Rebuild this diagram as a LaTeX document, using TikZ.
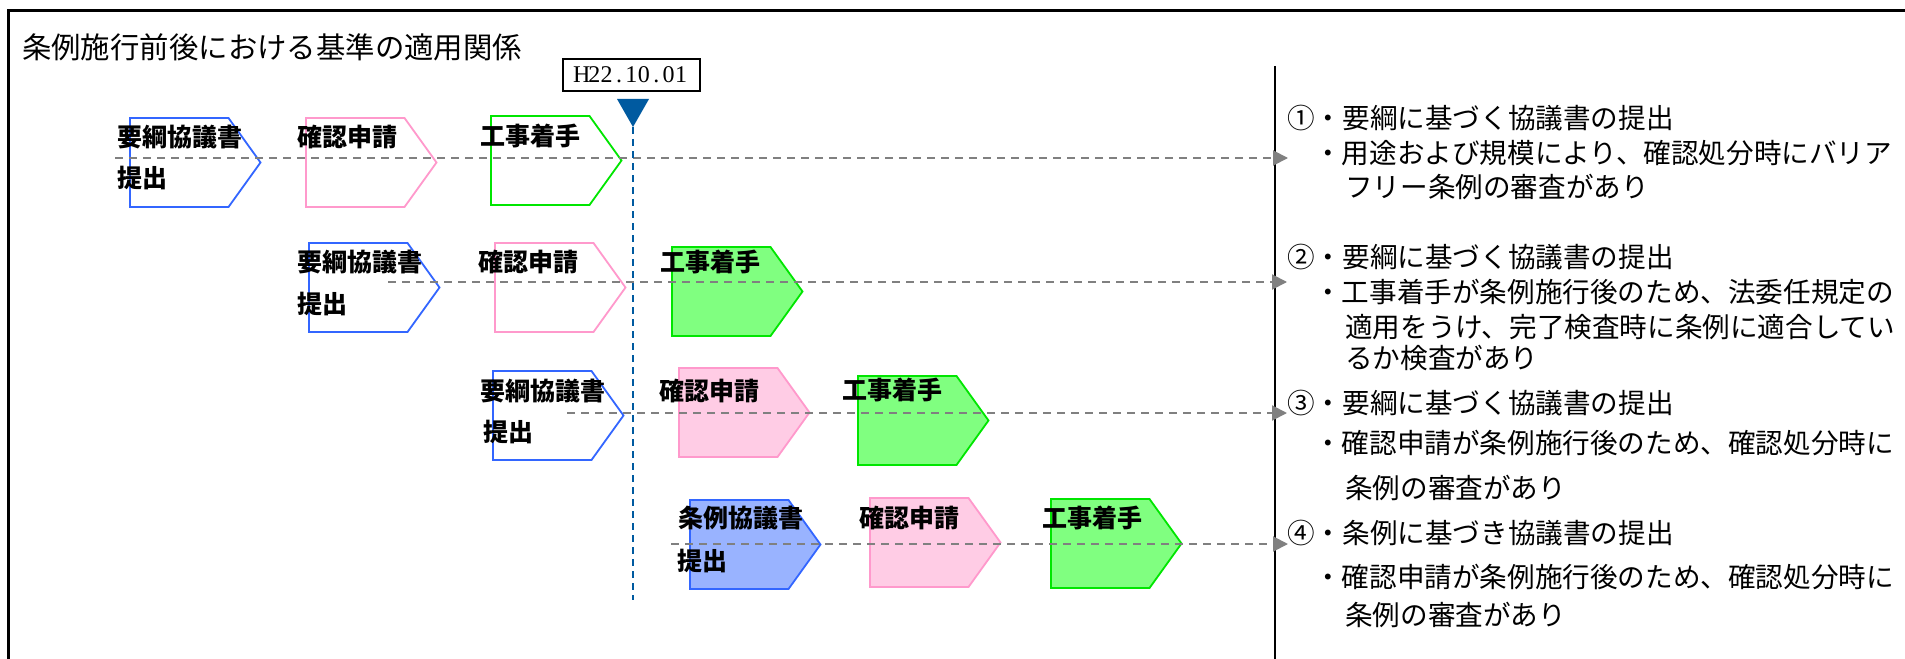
\documentclass[tikz,border=0pt]{standalone}
\usepackage{fontspec}
\setmainfont{Liberation Serif}
\newfontfamily\jp{Noto Sans CJK JP}
\usetikzlibrary{arrows.meta}
\definecolor{bline}{RGB}{51,102,255}
\definecolor{bfill}{RGB}{153,179,255}
\definecolor{pline}{RGB}{255,153,204}
\definecolor{pfill}{RGB}{255,204,229}
\definecolor{gline}{RGB}{0,230,0}
\definecolor{gfill}{RGB}{128,255,128}
\definecolor{mblue}{RGB}{0,90,160}
\definecolor{dgray}{RGB}{128,128,128}
\tikzset{
  box/.style={minimum width=98.5bp, minimum height=89bp, inner sep=0, outer sep=0, anchor=north west, draw=none},
  lbl/.style={anchor=west, inner sep=0, font=\jp\bfseries\fontsize{25bp}{27bp}\selectfont},
  desc/.style={anchor=west, inner sep=0, font=\jp\fontsize{27.6bp}{30bp}\selectfont},
  conn/.style={draw=dgray, line width=2bp, dash pattern=on 8bp off 6bp, -{Triangle[length=15bp,width=15bp]}},
  pentline/.style={line width=1.8bp, line join=miter},
}
\newcommand\pentshape[5]{%
  \node[box] (#1) at (#2,#3) {};
  \filldraw[pentline, draw=#4, fill=#5] (#1.north west) -- (#1.north east) -- ([xshift=32bp]#1.east) -- (#1.south east) -- (#1.south west) -- cycle;
}
\newcommand\mch[1]{\makebox[12.4bp][c]{#1}}
\begin{document}
\begin{tikzpicture}[x=1bp,y=-1bp]
\useasboundingbox (0,0) rectangle (1905,659);
\fill[white] (0,0) rectangle (1905,659);
% frame
\coordinate (fa) at (8,659);
\coordinate (fb) at (8,11);
\coordinate (fc) at (1905,11);
\draw[line width=3bp] (fa) -- (fb) -- (fc);
% divider
\coordinate (dtop) at (1275,66);
\coordinate (dbot) at (1275,659);
\draw[line width=2.5bp] (dtop) -- (dbot);
% title
\node[anchor=west, inner sep=0, font=\jp\fontsize{29.4bp}{32bp}\selectfont] (title) at (22,47) {条例施行前後における基準の適用関係};
% shapes
\pentshape{b1}{130}{118}{bline}{white}
\pentshape{p1}{306}{118}{pline}{white}
\pentshape{g1}{491}{116}{gline}{white}
\pentshape{b2}{309}{243}{bline}{white}
\pentshape{p2}{495}{243}{pline}{white}
\pentshape{g2}{672}{247}{gline}{gfill}
\pentshape{b3}{493}{371}{bline}{white}
\pentshape{p3}{679}{368}{pline}{pfill}
\pentshape{g3}{858}{376}{gline}{gfill}
\pentshape{b4}{690}{500}{bline}{bfill}
\pentshape{p4}{870}{498}{pline}{pfill}
\pentshape{g4}{1051}{499}{gline}{gfill}
% connectors
\coordinate (s1) at (115,158);  \coordinate (e1) at (1288,158);
\coordinate (s2) at (388,282);  \coordinate (e2) at (1287,282);
\coordinate (s3) at (567,413);  \coordinate (e3) at (1287,413);
\coordinate (s4) at (671,544);  \coordinate (e4) at (1288,544);
\draw[conn] (s1) -- (e1);
\draw[conn] (s2) -- (e2);
\draw[conn] (s3) -- (e3);
\draw[conn] (s4) -- (e4);
% date marker
\node[draw, line width=1.2bp, minimum width=137bp, minimum height=32bp, inner sep=0, font=\fontsize{24bp}{26bp}\selectfont] (date) at (631.5,75) {\mch{H}\mch{2}\mch{2}\mch{.}\mch{1}\mch{0}\mch{.}\mch{0}\mch{1}};
\coordinate (mk) at (633,127);
\coordinate (mkend) at (633,600);
\fill[mblue] (617,99) -- (649,99) -- (mk) -- cycle;
\draw[mblue, line width=1.8bp, dash pattern=on 7bp off 5bp] (mk) -- (mkend);
% labels
\node[lbl] (l1a) at (117,137) {要綱協議書};
\node[lbl] (l1b) at (117,178) {提出};
\node[lbl] (l1c) at (297,137) {確認申請};
\node[lbl] (l1d) at (480,136) {工事着手};
\node[lbl] (l2a) at (297,262) {要綱協議書};
\node[lbl] (l2b) at (297,304) {提出};
\node[lbl] (l2c) at (478,262) {確認申請};
\node[lbl] (l2d) at (660,262) {工事着手};
\node[lbl] (l3a) at (480,391) {要綱協議書};
\node[lbl] (l3b) at (483,432) {提出};
\node[lbl] (l3c) at (659,391) {確認申請};
\node[lbl] (l3d) at (842,390) {工事着手};
\node[lbl] (l4a) at (678,518) {条例協議書};
\node[lbl] (l4b) at (677,561) {提出};
\node[lbl] (l4c) at (859,518) {確認申請};
\node[lbl] (l4d) at (1042,518) {工事着手};
% descriptions
\node[desc] (r1a) at (1287,118) {①・要綱に基づく協議書の提出};
\node[desc] (r1b) at (1314,153) {・用途および規模により、確認処分時にバリア};
\node[desc] (r1c) at (1345,187) {フリー条例の審査があり};
\node[desc] (r2a) at (1287,257) {②・要綱に基づく協議書の提出};
\node[desc] (r2b) at (1314,292) {・工事着手が条例施行後のため、法委任規定の};
\node[desc] (r2c) at (1345,327) {適用をうけ、完了検査時に条例に適合してい};
\node[desc] (r2d) at (1345,358) {るか検査があり};
\node[desc] (r3a) at (1287,403) {③・要綱に基づく協議書の提出};
\node[desc] (r3b) at (1314,443) {・確認申請が条例施行後のため、確認処分時に};
\node[desc] (r3c) at (1345,488) {条例の審査があり};
\node[desc] (r4a) at (1287,533) {④・条例に基づき協議書の提出};
\node[desc] (r4b) at (1314,577) {・確認申請が条例施行後のため、確認処分時に};
\node[desc] (r4c) at (1345,615) {条例の審査があり};
\end{tikzpicture}
\end{document}
